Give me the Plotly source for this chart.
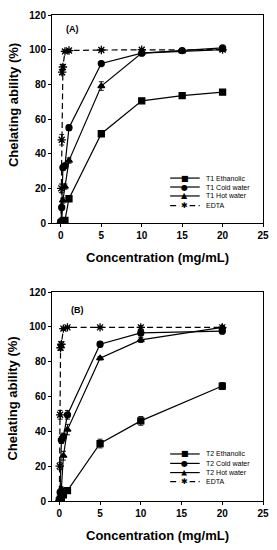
import plotly.graph_objects as go

# ---------------- Data: panel A (T1) ----------------
a_x = [0, 0.1, 0.25, 0.5, 1, 5, 10, 15, 20]
a_eth = [0, 0.5, 1, 1.5, 14, 51.5, 70.5, 73.5, 75.5]
a_eth_err = [0.3, 0.3, 0.4, 0.5, 1.0, 1.0, 1.2, 0.8, 1.0]
a_cold = [0, 9, 32, 33, 55, 92, 98, 99.5, 101]
a_cold_err = [0.3, 1.0, 1.5, 1.5, 1.5, 1.0, 0.8, 0.5, 0.5]
a_hot = [0, 1.5, 13, 21, 36, 79, 98, 99, 100]
a_hot_err = [0.3, 0.5, 1.5, 1.5, 1.5, 2.5, 1.0, 0.8, 0.6]
a_edta_x = [0, 0.05, 0.1, 0.15, 0.25, 0.5, 1, 5, 10, 20]
a_edta = [0, 20, 48, 87, 90, 99, 99.5, 99.8, 100, 100]
a_edta_err = [0.5, 2.5, 3.0, 1.5, 1.5, 0.8, 0.5, 0.4, 0.4, 0.4]

# ---------------- Data: panel B (T2) ----------------
b_x = [0, 0.1, 0.25, 0.5, 1, 5, 10, 20]
b_eth = [0, 1, 2, 3.5, 6, 33, 46, 66]
b_eth_err = [0.3, 0.4, 0.5, 0.8, 1.0, 2.5, 2.5, 2.0]
b_cold = [0, 5, 35, 37, 49.5, 90, 96.5, 97.5]
b_cold_err = [0.3, 1.0, 2.0, 2.0, 2.5, 1.5, 1.5, 1.0]
b_hot = [0, 1.5, 7, 26, 41, 82, 92.5, 99.7]
b_hot_err = [0.3, 0.5, 1.0, 2.5, 3.0, 1.0, 1.5, 0.8]
b_edta_x = [0, 0.05, 0.1, 0.15, 0.25, 0.5, 1, 5, 10, 20]
b_edta = [0, 20, 49.5, 88, 90, 99, 99.7, 99.7, 99.7, 99.7]
b_edta_err = [0.5, 2.0, 2.5, 1.5, 1.5, 0.8, 0.5, 0.5, 1.0, 0.5]

a_names = ["T1 Ethanolic", "T1 Cold water", "T1 Hot water", "EDTA"]
b_names = ["T2 Ethanolic", "T2 Cold water", "T2 Hot water", "EDTA"]

x_ticks = [0, 5, 10, 15, 20, 25]
y_ticks = [0, 20, 40, 60, 80, 100, 120]

FONT = "Liberation Sans, Arial, sans-serif"
BLACK = "black"
DASH = "6px,3.5px"
symbols = ["square", "circle", "triangle-up", "asterisk-open"]
glyphs = ["\u25A0", "\u25CF", "\u25B2", "\u2731"]
dashes = ["solid", "solid", "solid", DASH]

fig = go.Figure()


def add_series(x, y, err, name, symbol, dash, xa, ya, size=6):
    fig.add_trace(go.Scatter(
        x=x, y=y, name=name, mode="lines+markers",
        xaxis=xa, yaxis=ya, showlegend=False,
        line=dict(color=BLACK, width=1.2, dash=dash),
        marker=dict(symbol=symbol, size=size, color=BLACK,
                    line=dict(color=BLACK, width=1.3)),
        error_y=dict(type="data", array=err, visible=True,
                     color=BLACK, thickness=0.9, width=2.5),
    ))


a_sets = [(a_x, a_eth, a_eth_err), (a_x, a_cold, a_cold_err),
          (a_x, a_hot, a_hot_err), (a_edta_x, a_edta, a_edta_err)]
b_sets = [(b_x, b_eth, b_eth_err), (b_x, b_cold, b_cold_err),
          (b_x, b_hot, b_hot_err), (b_edta_x, b_edta, b_edta_err)]

for i, (xx, yy, ee) in enumerate(a_sets):
    add_series(xx, yy, ee, a_names[i], symbols[i], dashes[i], "x", "y",
               size=7 if i == 3 else 6)
for i, (xx, yy, ee) in enumerate(b_sets):
    add_series(xx, yy, ee, b_names[i], symbols[i], dashes[i], "x2", "y2",
               size=7 if i == 3 else 6)

tick_font = dict(family=FONT, size=10, color=BLACK, weight="bold")
title_font = dict(family=FONT, size=13, color=BLACK, weight="bold")

common_x = dict(tickvals=x_ticks, ticks="outside", ticklen=3, tickwidth=1,
                tickcolor=BLACK, showline=True, linecolor=BLACK, linewidth=1,
                mirror=True, showgrid=False, zeroline=False,
                tickfont=tick_font, automargin=False)
common_y = dict(tickvals=y_ticks, ticks="outside", ticklen=3, tickwidth=1,
                tickcolor=BLACK, showline=True, linecolor=BLACK, linewidth=1,
                mirror=True, showgrid=False, zeroline=False, range=[0, 120],
                tickfont=tick_font, automargin=False)

annotations = []
shapes = []

# Axis titles
for xr, yr, ycen in [("x", "y", 0.567), ("x2", "y2", 0.49)]:
    annotations.append(dict(text="Chelating ability (%)", textangle=-90,
                            x=0, xref=xr + " domain", xshift=-39,
                            xanchor="center", yanchor="middle",
                            y=ycen, yref=yr + " domain",
                            showarrow=False, font=title_font))
    annotations.append(dict(text="Concentration (mg/mL)",
                            x=0.5, xref=xr + " domain",
                            xanchor="center", yanchor="middle",
                            y=0, yref=yr + " domain", yshift=-34,
                            showarrow=False, font=title_font))

# Panel labels
label_font = dict(family=FONT, size=9, color=BLACK, weight="bold")
annotations.append(dict(text="(A)", x=0.095, xref="x domain", y=0.933,
                        xanchor="center", yanchor="middle",
                        yref="y domain", showarrow=False, font=label_font))
annotations.append(dict(text="(B)", x=0.123, xref="x2 domain", y=0.914,
                        xanchor="center", yanchor="middle",
                        yref="y2 domain", showarrow=False, font=label_font))

# Legends (drawn compactly)
leg_font = dict(family=FONT, size=7, color=BLACK)
for xr, yr, names, ys in [("x", "y", a_names, [0.216, 0.173, 0.130, 0.084]),
                          ("x2", "y2", b_names, [0.225, 0.180, 0.136, 0.093])]:
    for i, name in enumerate(names):
        shapes.append(dict(type="line", xref=xr + " domain", yref=yr + " domain",
                           x0=0.56, x1=0.70, y0=ys[i], y1=ys[i],
                           line=dict(color=BLACK, width=1.2,
                                     dash=DASH if i == 3 else "solid")))
        annotations.append(dict(text=glyphs[i], x=0.63, xref=xr + " domain",
                                xanchor="center", yanchor="middle",
                                y=ys[i], yref=yr + " domain", showarrow=False,
                                font=dict(family="DejaVu Sans", size=8,
                                          color=BLACK),
                                bgcolor="white" if i == 3 else "rgba(0,0,0,0)"))
        annotations.append(dict(text=name, x=0.72, xref=xr + " domain",
                                xanchor="left", yanchor="middle",
                                y=ys[i], yref=yr + " domain",
                                showarrow=False, font=leg_font))

fig.update_layout(
    width=277, height=550,
    margin=dict(l=52, r=14, t=15, b=49, autoexpand=False),
    paper_bgcolor="white", plot_bgcolor="white",
    showlegend=False,
    xaxis=dict(common_x, domain=[0, 1], range=[-1.1, 25], anchor="y"),
    yaxis=dict(common_y, domain=[0.572, 1], anchor="x"),
    xaxis2=dict(common_x, domain=[0, 1], range=[-0.9, 25], anchor="y2"),
    yaxis2=dict(common_y, domain=[0, 0.430], anchor="x2"),
    annotations=annotations,
    shapes=shapes,
)

fig.write_html(
    "out.html",
    config={"displayModeBar": False, "staticPlot": True},
    post_script="document.body.style.margin='0';"
                "document.documentElement.style.overflow='hidden';",
)
